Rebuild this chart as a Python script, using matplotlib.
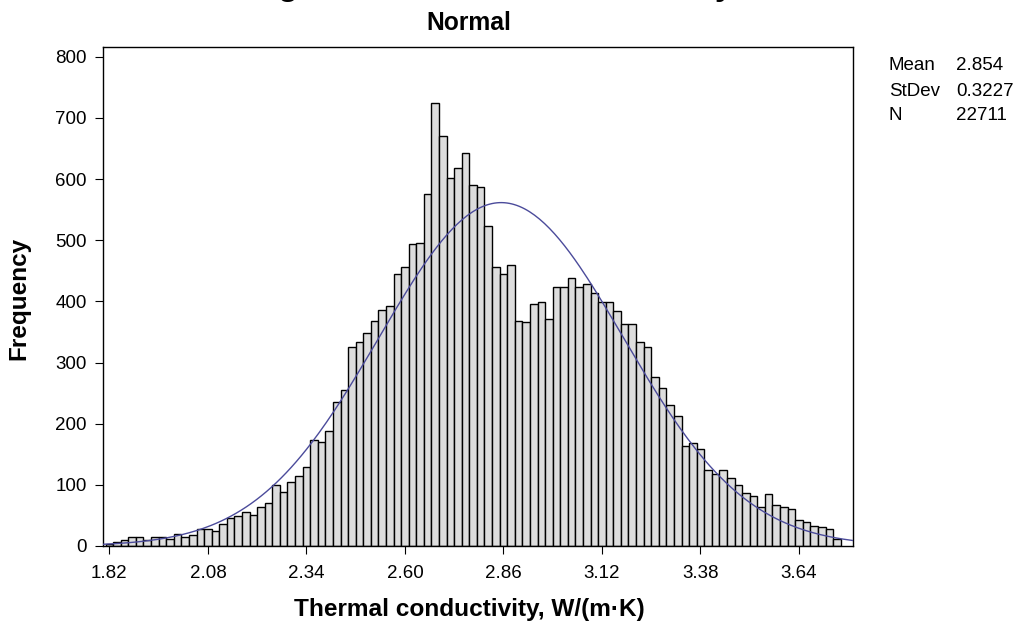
import numpy as np
import matplotlib
matplotlib.use("Agg")
import matplotlib.pyplot as plt

plt.rcParams['font.family'] = ['Liberation Sans', 'DejaVu Sans']

# bin midpoints (width 0.02) and counts
bin_width = 0.02
mids = np.round(np.arange(1.82, 3.7401, bin_width), 2)
counts = [3, 6, 9, 15, 15, 9, 14, 14, 11, 20,
          15, 18, 27, 27, 24, 36, 45, 49, 55, 51,
          63, 70, 100, 88, 105, 115, 130, 173, 170, 188,
          235, 255, 325, 334, 349, 368, 386, 393, 445, 457,
          494, 496, 576, 725, 670, 601, 618, 643, 591, 587,
          524, 457, 445, 460, 368, 366, 396, 399, 372, 423,
          423, 438, 423, 429, 414, 399, 399, 384, 363, 363,
          334, 325, 277, 258, 231, 213, 164, 168, 158, 124,
          118, 124, 112, 100, 87, 82, 63, 85, 67, 63,
          60, 43, 39, 33, 31, 27, 11]

mean = 2.854
stdev = 0.3227
n_obs = 22711

x_ticks = [1.82, 2.08, 2.34, 2.60, 2.86, 3.12, 3.38, 3.64]
y_ticks = [0, 100, 200, 300, 400, 500, 600, 700, 800]
x_lim = (1.804, 3.7825)
y_lim = (0, 816)

W, H = 1017, 623
fig = plt.figure(figsize=(W / 100, H / 100), dpi=100)
ax = fig.add_axes([103.3 / W, 1 - 546 / H, (853 - 103.3) / W, (546 - 47) / H])

ax.bar(mids, counts, width=bin_width, color='#dddddd', edgecolor='black',
       linewidth=1.0, align='center', zorder=2)

# fitted normal curve scaled to counts
xs = np.linspace(x_lim[0], x_lim[1], 300)
ys = n_obs * bin_width / (stdev * np.sqrt(2 * np.pi)) * np.exp(-0.5 * ((xs - mean) / stdev) ** 2)
ax.plot(xs, ys, color='#4b4b9b', linewidth=1.0, zorder=3)

ax.set_xlim(*x_lim)
ax.set_ylim(*y_lim)
ax.set_xticks(x_ticks)
ax.set_xticklabels(['%.2f' % v for v in x_ticks])
ax.set_yticks(y_ticks)
ax.tick_params(direction='out', length=6, width=0.8, labelsize=13.5)
ax.tick_params(axis='x', pad=7.5)
ax.tick_params(axis='y', pad=6)
for s in ax.spines.values():
    s.set_linewidth(1.0)

# titles and labels (first title line sits mostly above the image edge)
fig.text(465 / W, 1 + 5 / H, 'Histogram of Thermal conductivity', ha='center', va='baseline',
         fontsize=23.4, fontweight='bold')
fig.text(469 / W, 1 - 30 / H, 'Normal', ha='center', va='baseline',
         fontsize=17.7, fontweight='bold')
fig.text(469 / W, 1 - 616 / H, 'Thermal conductivity, W/(m\u00b7K)', ha='center', va='baseline',
         fontsize=17.6, fontweight='bold')
fig.text(19 / W, 1 - 298 / H, 'Frequency', ha='center', va='center', rotation=90,
         fontsize=17.5, fontweight='bold')

# stats box
stat_names = ['Mean', 'StDev', 'N']
stat_vals = ['%.3f' % mean, '%.4f' % stdev, '%d' % n_obs]
for i, (nm, v) in enumerate(zip(stat_names, stat_vals)):
    yy = 1 - (66 + 25 * i) / H
    fig.text(889 / W, yy, nm, ha='left', va='center', fontsize=13.5)
    fig.text(956 / W, yy, v, ha='left', va='center', fontsize=13.5)

fig.savefig('out.png', dpi=100)
